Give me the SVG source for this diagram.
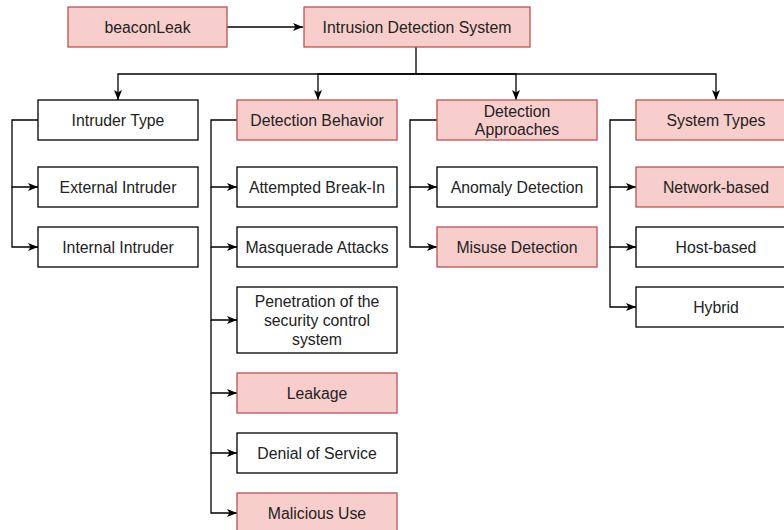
<svg xmlns="http://www.w3.org/2000/svg" width="784" height="530" viewBox="0 0 784 530">
<defs>
<marker id="arr" markerUnits="userSpaceOnUse" markerWidth="10" markerHeight="10" viewBox="0 0 10 10" refX="10" refY="5" orient="auto">
<path d="M0,1 L10,5 L0,9 L2.5,5 z" fill="#000"/>
</marker>
<style>
.w{fill:#ffffff;stroke:#000;stroke-width:1.3}
.r{fill:#f8cecc;stroke:#b85450;stroke-width:1.3}
text{font-family:"Liberation Sans",Arial,sans-serif;font-size:15.8px;fill:#222;text-anchor:middle;dominant-baseline:central}
.c path{fill:none;stroke:#000;stroke-width:1.3}
</style>
</defs>
<rect width="784" height="530" fill="#fff"/>
<g class="c" id="connectors">
<path d="M227,27 H303" marker-end="url(#arr)"/>
<path d="M416,47 V74 H118 V100" marker-end="url(#arr)"/>
<path d="M416,74 H318 V100" marker-end="url(#arr)"/>
<path d="M416,74 H516 V100" marker-end="url(#arr)"/>
<path d="M416,74 H716 V100" marker-end="url(#arr)"/>
<path d="M38,120 H12 V187 H38" marker-end="url(#arr)"/>
<path d="M12,187 V247 H38" marker-end="url(#arr)"/>
<path d="M237,120 H211 V187 H237" marker-end="url(#arr)"/>
<path d="M211,187 V247 H237" marker-end="url(#arr)"/>
<path d="M211,247 V320 H237" marker-end="url(#arr)"/>
<path d="M211,320 V393 H237" marker-end="url(#arr)"/>
<path d="M211,393 V453 H237" marker-end="url(#arr)"/>
<path d="M211,453 V513 H237" marker-end="url(#arr)"/>
<path d="M437,120 H410 V187 H437" marker-end="url(#arr)"/>
<path d="M410,187 V247 H437" marker-end="url(#arr)"/>
<path d="M636,120 H610 V187 H636" marker-end="url(#arr)"/>
<path d="M610,187 V247 H636" marker-end="url(#arr)"/>
<path d="M610,247 V307 H636" marker-end="url(#arr)"/>
</g>
<g id="beaconLeak"><rect class="r" x="68" y="7" width="159" height="40"/><text x="147.5" y="27">beaconLeak</text></g>
<g id="ids"><rect class="r" x="304" y="7" width="226" height="40"/><text x="417" y="27">Intrusion Detection System</text></g>
<g id="intruderType"><rect class="w" x="38" y="100" width="160" height="40"/><text x="118" y="120">Intruder Type</text></g>
<g id="externalIntruder"><rect class="w" x="38" y="167" width="160" height="40"/><text x="118" y="187">External Intruder</text></g>
<g id="internalIntruder"><rect class="w" x="38" y="227" width="160" height="40"/><text x="118" y="247">Internal Intruder</text></g>
<g id="detectionBehavior"><rect class="r" x="237" y="100" width="160" height="40"/><text x="317" y="120">Detection Behavior</text></g>
<g id="attemptedBreakIn"><rect class="w" x="237" y="167" width="160" height="40"/><text x="317" y="187">Attempted Break-In</text></g>
<g id="masquerade"><rect class="w" x="237" y="227" width="160" height="40"/><text x="317" y="247">Masquerade Attacks</text></g>
<g id="penetration"><rect class="w" x="237" y="287" width="160" height="66"/><text x="317" y="301">Penetration of the</text><text x="317" y="320">security control</text><text x="317" y="339">system</text></g>
<g id="leakage"><rect class="r" x="237" y="373" width="160" height="40"/><text x="317" y="393">Leakage</text></g>
<g id="dos"><rect class="w" x="237" y="433" width="160" height="40"/><text x="317" y="453">Denial of Service</text></g>
<g id="maliciousUse"><rect class="r" x="237" y="493" width="160" height="40"/><text x="317" y="513">Malicious Use</text></g>
<g id="detectionApproaches"><rect class="r" x="437" y="100" width="160" height="40"/><text x="517" y="111">Detection</text><text x="517" y="129">Approaches</text></g>
<g id="anomaly"><rect class="w" x="437" y="167" width="160" height="40"/><text x="517" y="187">Anomaly Detection</text></g>
<g id="misuse"><rect class="r" x="437" y="227" width="160" height="40"/><text x="517" y="247">Misuse Detection</text></g>
<g id="systemTypes"><rect class="r" x="636" y="100" width="160" height="40"/><text x="716" y="120">System Types</text></g>
<g id="networkBased"><rect class="r" x="636" y="167" width="160" height="40"/><text x="716" y="187">Network-based</text></g>
<g id="hostBased"><rect class="w" x="636" y="227" width="160" height="40"/><text x="716" y="247">Host-based</text></g>
<g id="hybrid"><rect class="w" x="636" y="287" width="160" height="40"/><text x="716" y="307">Hybrid</text></g>
</svg>
